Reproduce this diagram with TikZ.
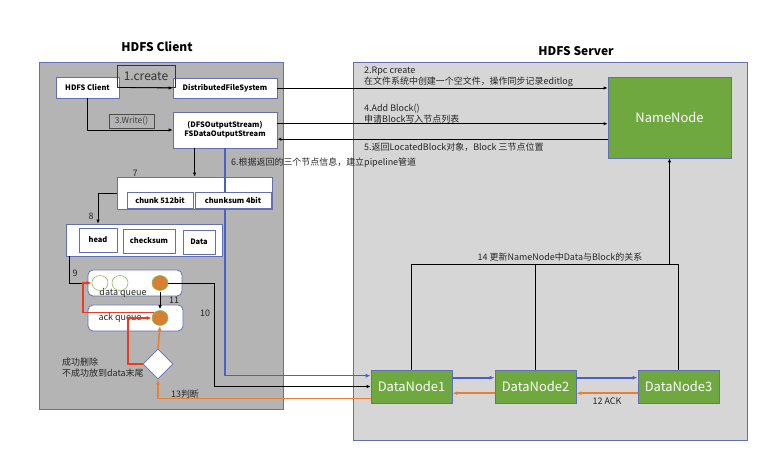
\documentclass[tikz,border=0pt]{standalone}
\usepackage{fontspec}
\setmainfont{Noto Sans CJK SC}
\usetikzlibrary{calc,arrows.meta,shapes.geometric}

\definecolor{clientgray}{RGB}{180,180,180}
\definecolor{servergray}{RGB}{214,214,214}
\definecolor{frameblue}{RGB}{98,112,178}
\definecolor{nodegreen}{RGB}{112,168,64}
\definecolor{pipeblue}{RGB}{72,96,200}
\definecolor{ackorange}{RGB}{232,128,52}
\definecolor{retryred}{RGB}{230,62,38}
\definecolor{ballorange}{RGB}{214,128,50}
\definecolor{ringgreen}{RGB}{140,192,92}

\tikzset{
	area/.style={draw=frameblue, line width=0.8pt, inner sep=0pt},
	box/.style={draw=frameblue, fill=white, line width=0.8pt, inner sep=0pt, font=\bfseries\fontsize{7.5}{9}\selectfont},
	queue/.style={box, rounded corners=5bp, font=\fontsize{9}{11}\selectfont},
	ring/.style={ellipse, draw=ringgreen, line width=0.6pt, minimum width=16bp, minimum height=15bp, inner sep=0pt},
	ball/.style={ring, fill=ballorange},
	green/.style={draw=frameblue, fill=nodegreen, text=white, line width=0.8pt, inner sep=0pt, font=\fontsize{13}{15}\selectfont},
	lbl/.style={inner sep=0pt, text=black!85, font=\fontsize{9}{11}\selectfont},
	arr/.style={line width=0.8pt, -{Latex[length=4pt,width=3.5pt]}},
	wire/.style={line width=0.8pt},
	bluearr/.style={draw=pipeblue, line width=1.6pt, -{Latex[length=5pt,width=4pt]}},
	orangearr/.style={draw=ackorange, line width=1.6pt, -{Latex[length=5pt,width=4pt]}},
	redarr/.style={draw=retryred, line width=1.6pt, -{Latex[length=5pt,width=4pt]}}
}

\begin{document}
\begin{tikzpicture}[x=1bp, y=-1bp]
	%%%%% START %%%%%
	\useasboundingbox (0,0) rectangle (783,469);
	
	% the two areas
	\node[area, fill=clientgray, minimum width=244bp, minimum height=347bp] (clientarea) at (161,235.5) {};
	\node[area, fill=servergray, minimum width=394bp, minimum height=378bp] (serverarea) at (550,251) {};
	\node[font=\bfseries\fontsize{12}{14}\selectfont] (clienttitle) at (157,47) {HDFS Client};
	\node[font=\bfseries\fontsize{12}{14}\selectfont] (servertitle) at (576,51) {HDFS Server};
	
	% server side
	\node[green, minimum width=123bp, minimum height=81bp] (namenode) at (669.5,117.5) {NameNode};
	\node[green, minimum width=81bp, minimum height=33bp] (dn1) at (411.5,386.5) {DataNode1};
	\node[green, minimum width=81bp, minimum height=33bp] (dn2) at (535.5,386.5) {DataNode2};
	\node[green, minimum width=81bp, minimum height=33bp] (dn3) at (678.5,386.5) {DataNode3};
	
	% client side
	\node[box, minimum width=63bp, minimum height=21bp] (hdfsclient) at (87.5,87.5) {HDFS Client};
	\node[box, minimum width=104bp, minimum height=20bp] (dfs) at (225,88) {DistributedFileSystem};
	\node[box, minimum width=104bp, minimum height=36bp, align=center] (fsdos) at (225,130) {(DFSOutputStream)\\FSDataOutputStream};
	\node[draw=black!80, line width=0.8pt, inner sep=0pt, minimum width=58bp, minimum height=22bp, font=\fontsize{12}{14}\selectfont, text=black!80] (createlbl) at (146,76) {1.create};
	\node[draw=black!70, line width=0.6pt, inner sep=0pt, minimum width=45bp, minimum height=14bp, font=\fontsize{8.5}{10}\selectfont, text=black!75] (writelbl) at (131.5,121) {3.Write()};
	
	\node[box, minimum width=155bp, minimum height=32bp] (chunkbox) at (194.5,193) {};
	\coordinate (pipein) at ($(dn1.north west)!0.18!(dn1.south west)$);
	\draw[bluearr] (fsdos.south) |- (pipein);
	\node[box, minimum width=66bp, minimum height=16bp] (chunk) at (160,200) {chunk 512bit};
	\node[box, minimum width=76bp, minimum height=16bp] (chunksum) at (233,200) {chunksum 4bit};
	
	\node[box, minimum width=156bp, minimum height=32bp] (packetbox) at (144,240) {};
	\node[box, minimum width=38bp, minimum height=24bp] (head) at (98,240) {head};
	\node[box, minimum width=52bp, minimum height=24bp] (checksum) at (149,241) {checksum};
	\node[box, minimum width=32bp, minimum height=24bp] (data) at (199,242) {Data};
	
	\node[queue, minimum width=94bp, minimum height=26bp] (dataq) at (135,283) {};
	\node[queue, minimum width=95bp, minimum height=26bp] (ackq) at (135.5,318) {};
	\node[lbl] (dataqlbl) at (123,293) {data queue};
	\node[lbl] (ackqlbl) at (120,318) {ack queue};
	\node[ring] (ring1) at (100,283) {};
	\node[ring] (ring2) at (120,283) {};
	\node[ball] (ball1) at (160,283) {};
	\node[ball] (ball2) at (160,318) {};
	
	\node[diamond, draw=frameblue, fill=white, line width=0.8pt, minimum width=30bp, minimum height=30bp, inner sep=0pt] (judge) at (158,364) {};
	\node[lbl, anchor=west, align=left] (judgelbl) at (62,367.5) {成功删除\\不成功放到data末尾};
	
	% step labels
	\node[lbl, anchor=west, align=left] (rpclbl) at (364,76.5) {2.Rpc create\\在文件系统中创建一个空文件，操作同步记录editlog};
	\node[lbl, anchor=west, align=left] (addlbl) at (364,113.5) {4.Add Block()\\申请Block写入节点列表};
	\node[lbl, anchor=west] (retlbl) at (364,147) {5.返回LocatedBlock对象，Block 三节点位置};
	\node[lbl, anchor=west] (pipelbl) at (231,163) {6.根据返回的三个节点信息，建立pipeline管道};
	\node[lbl] (sevenlbl) at (135,173) {7};
	\node[lbl] (eightlbl) at (91,216) {8};
	\node[lbl] (ninelbl) at (75,273) {9};
	\node[lbl] (elevenlbl) at (174,300) {11};
	\node[lbl] (tenlbl) at (205,313) {10};
	\node[lbl] (ackhlbl) at (607,401) {12 ACK};
	\node[lbl] (judgehlbl) at (185,394) {13判断};
	\node[lbl] (updatelbl) at (560,257) {14 更新NameNode中Data与Block的关系};
	
	% client connectors
	\draw[arr] (hdfsclient.east) -- (dfs.west);
	\draw[arr] (hdfsclient.south) |- (fsdos.west);
	\coordinate (sendpt) at ($(fsdos.south west)!0.21!(fsdos.south east)$);
	\draw[arr] (sendpt) -- (sendpt |- chunkbox.north);
	\draw[arr] (chunkbox.west) -| (head |- packetbox.north);
	\draw[wire] ($(packetbox.south west)+(4,0)$) |- (dataq.west);
	\draw[arr, shorten <=1pt, shorten >=1pt] (ball1) -- (ball2);
	\draw[arr] (ball1.east) -- ++(46,0) |- (dn1.west);
	
	\coordinate (retryx) at (83,300);
	\coordinate (failx) at (128,340);
	\draw[redarr] (ball2.north west) -| (retryx) |- (ring1.west);
	\draw[redarr] (judge.west) -| (failx) |- (ball2.west);
	\draw[orangearr] (judge.north) -- (ball2.south);
	
	% client to server
	\draw[arr] (dfs.east) -- (dfs.east -| namenode.west);
	\coordinate (addpt) at ($(fsdos.north east)!0.33!(fsdos.south east)$);
	\draw[arr] (addpt) -- (addpt -| namenode.west);
	\coordinate (retpt) at ($(fsdos.north east)!0.75!(fsdos.south east)$);
	\draw[arr] (retpt -| namenode.west) -- (retpt);
	\coordinate (ackout) at ($(dn1.north west)!0.85!(dn1.south west)$);
	\draw[orangearr] (ackout) -| (judge.south);
	
	% pipeline
	\coordinate (pipe1) at ($(dn1.north east)!0.24!(dn1.south east)$);
	\coordinate (pipe2) at ($(dn2.north east)!0.24!(dn2.south east)$);
	\draw[bluearr] (pipe1) -- (pipe1 -| dn2.west);
	\draw[bluearr] (pipe2) -- (pipe2 -| dn3.west);
	\coordinate (ack3) at ($(dn3.north west)!0.7!(dn3.south west)$);
	\coordinate (ack2) at ($(dn2.north west)!0.7!(dn2.south west)$);
	\draw[orangearr] (ack3) -- (ack3 -| dn2.east);
	\draw[orangearr] (ack2) -- (ack2 -| dn1.east);
	
	% report to namenode
	\coordinate (bus) at (0,264);
	\draw[wire] (dn1.north) |- (bus -| dn3.north) -- (dn3.north);
	\draw[wire] (dn2.north) -- (dn2.north |- bus);
	\draw[arr] (namenode.south |- bus) -- (namenode.south);
	
	%%%%% END %%%%%
\end{tikzpicture}
\end{document}
